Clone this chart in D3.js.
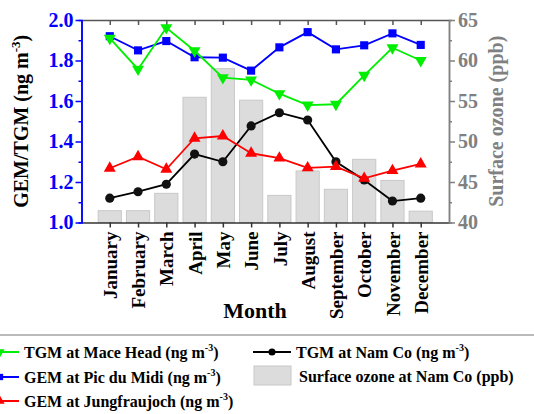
<!DOCTYPE html>
<html>
<head>
<meta charset="utf-8">
<script src="https://cdn.jsdelivr.net/npm/d3@7"></script>
<style>
	body { margin: 0; background: #fff; }
	svg { display: block; font-family: 'Liberation Serif', 'Times New Roman', serif; font-weight: bold; }
</style>
</head>
<body>
<svg></svg>
<script>
var WIDTH = 534;
var HEIGHT = 414;

var months = ['January', 'February', 'March', 'April', 'May', 'June', 'July',
	'August', 'September', 'October', 'November', 'December'];

var tgmMaceHead = [1.91, 1.757, 1.962, 1.848, 1.715, 1.704, 1.636, 1.58, 1.584, 1.727, 1.863, 1.80];
var gemPicDuMidi = [1.92, 1.85, 1.896, 1.816, 1.814, 1.75, 1.865, 1.94, 1.855, 1.875, 1.934, 1.877];
var gemJungfraujoch = [1.268, 1.325, 1.263, 1.416, 1.427, 1.342, 1.318, 1.27, 1.276, 1.218, 1.256, 1.289];
var tgmNamCo = [1.12, 1.152, 1.189, 1.338, 1.30, 1.477, 1.542, 1.506, 1.30, 1.21, 1.106, 1.12];
var ozoneNamCo = [41.46, 41.46, 43.6, 55.46, 59.0, 55.1, 43.35, 46.36, 44.1, 47.8, 45.2, 41.4];

var leftTicks = [1.0, 1.2, 1.4, 1.6, 1.8, 2.0];
var rightTicks = [40, 45, 50, 55, 60, 65];

var svg = d3.select('svg')
	.attr('width', WIDTH)
	.attr('height', HEIGHT);

var plotLeft = 81.5, plotRight = 449, plotTop = 20, plotBottom = 222.5;

var x = d3.scalePoint().domain(months).range([plotLeft, plotRight]).padding(1);
var yLeft = d3.scaleLinear().domain([1, 2]).range([plotBottom, plotTop]);
var yRight = d3.scaleLinear().domain([40, 65]).range([plotBottom, plotTop]);

// bars (surface ozone)
var barW = x.step() * 0.82;
svg.append('g').selectAll('rect')
	.data(ozoneNamCo)
	.enter()
	.append('rect')
	.attr('x', function(d, i){ return x(months[i]) - barW / 2; })
	.attr('y', function(d){ return yRight(d); })
	.attr('width', barW)
	.attr('height', function(d){ return plotBottom - yRight(d); })
	.attr('fill', '#dcdcdc')
	.attr('stroke', '#c8c8c8')
	.attr('stroke-width', 1);

// top frame line with inward ticks
var topAxis = d3.axisTop(x).tickSize(-5).tickSizeOuter(0).tickFormat('');
svg.append('g')
	.attr('transform', 'translate(0,' + plotTop + ')')
	.call(topAxis)
	.call(function(g){
		g.selectAll('path, line').attr('stroke', '#555').attr('stroke-width', 1.5);
	});

// bottom axis
var bottomAxis = d3.axisBottom(x).tickSize(5).tickSizeOuter(0);
svg.append('g')
	.attr('transform', 'translate(0,' + plotBottom + ')')
	.call(bottomAxis)
	.call(function(g){
		g.select('.domain').attr('stroke', '#333').attr('stroke-width', 1.5);
		g.selectAll('line').attr('stroke', '#333').attr('stroke-width', 1.5);
		g.selectAll('text')
			.attr('transform', 'rotate(-90)')
			.attr('x', -9)
			.attr('y', 0)
			.attr('dy', '0.35em')
			.attr('text-anchor', 'end')
			.attr('font-size', 19)
			.attr('font-family', 'Liberation Serif')
			.attr('font-weight', 'bold')
			.attr('fill', '#000');
	});

// left axis (blue)
var leftMinor = d3.axisLeft(yLeft).tickValues(d3.range(1.1, 2, 0.2)).tickSize(3).tickFormat('');
svg.append('g')
	.attr('transform', 'translate(' + plotLeft + ',0)')
	.call(leftMinor)
	.call(function(g){ g.selectAll('path, line').attr('stroke', '#0000ff').attr('stroke-width', 1.5); });
var leftAxis = d3.axisLeft(yLeft).tickValues(leftTicks).tickSize(6).tickSizeOuter(0).tickFormat(d3.format('.1f'));
svg.append('g')
	.attr('transform', 'translate(' + plotLeft + ',0)')
	.call(leftAxis)
	.call(function(g){
		g.selectAll('path, line').attr('stroke', '#0000ff').attr('stroke-width', 1.5);
		g.selectAll('text')
			.attr('fill', '#0000ff')
			.attr('font-size', 20)
			.attr('font-family', 'Liberation Serif')
			.attr('font-weight', 'bold')
			.attr('x', -8);
	});

// right axis (gray)
var rightMinor = d3.axisRight(yRight).tickValues(d3.range(42.5, 65, 5)).tickSize(3).tickFormat('');
svg.append('g')
	.attr('transform', 'translate(' + plotRight + ',0)')
	.call(rightMinor)
	.call(function(g){ g.selectAll('path, line').attr('stroke', '#808080').attr('stroke-width', 1.5); });
var rightAxis = d3.axisRight(yRight).tickValues(rightTicks).tickSize(6).tickSizeOuter(0);
svg.append('g')
	.attr('transform', 'translate(' + plotRight + ',0)')
	.call(rightAxis)
	.call(function(g){
		g.selectAll('path, line').attr('stroke', '#808080').attr('stroke-width', 1.5);
		g.selectAll('text')
			.attr('fill', '#808080')
			.attr('font-size', 20)
			.attr('font-family', 'Liberation Serif')
			.attr('font-weight', 'bold')
			.attr('x', 9);
	});

// axis titles
var leftTitle = svg.append('text')
	.attr('transform', 'translate(28,' + ((plotTop + plotBottom) / 2) + ') rotate(-90)')
	.attr('text-anchor', 'middle')
	.attr('font-size', 20)
	.attr('fill', '#000');
leftTitle.append('tspan').text('GEM/TGM (ng m');
leftTitle.append('tspan').attr('font-size', 13).attr('dy', -8).text('-3');
leftTitle.append('tspan').attr('dy', 8).text(')');

svg.append('text')
	.attr('transform', 'translate(503,' + ((plotTop + plotBottom) / 2) + ') rotate(-90)')
	.attr('text-anchor', 'middle')
	.attr('font-size', 20)
	.attr('fill', '#808080')
	.text('Surface ozone (ppb)');

svg.append('text')
	.attr('x', 255)
	.attr('y', 318)
	.attr('text-anchor', 'middle')
	.attr('font-size', 22)
	.attr('fill', '#000')
	.text('Month');

// series lines + markers
var lineGen = d3.line()
	.x(function(d, i){ return x(months[i]); })
	.y(function(d){ return yLeft(d); });

var series = [
	{ name: 'TGM at Nam Co', values: tgmNamCo, color: '#000000', symbol: d3.symbolCircle, size: 66, rot: 0 },
	{ name: 'GEM at Jungfraujoch', values: gemJungfraujoch, color: '#ff0000', symbol: d3.symbolTriangle, size: 62, rot: 0 },
	{ name: 'GEM at Pic du Midi', values: gemPicDuMidi, color: '#0000ff', symbol: d3.symbolSquare, size: 66, rot: 0 },
	{ name: 'TGM at Mace Head', values: tgmMaceHead, color: '#00ee00', symbol: d3.symbolTriangle, size: 62, rot: 180 }
];

series.forEach(function(s){
	var g = svg.append('g');
	g.append('path')
		.datum(s.values)
		.attr('d', lineGen)
		.attr('fill', 'none')
		.attr('stroke', s.color)
		.attr('stroke-width', 1.8);
	g.selectAll('path.pt')
		.data(s.values)
		.enter()
		.append('path')
		.attr('class', 'pt')
		.attr('d', d3.symbol().type(s.symbol).size(s.size))
		.attr('transform', function(d, i){
			return 'translate(' + x(months[i]) + ',' + yLeft(d) + ') rotate(' + s.rot + ')';
		})
		.attr('fill', s.color === '#000000' ? '#111' : s.color);
});

// legend
svg.append('line')
	.attr('x1', 0).attr('x2', WIDTH)
	.attr('y1', 335).attr('y2', 335)
	.attr('stroke', '#777')
	.attr('stroke-width', 1);

var legendItems = [
	{ s: series[3], x: 0, y: 352, label: 'TGM at Mace Head (ng m' },
	{ s: series[2], x: 0, y: 377, label: 'GEM at Pic du Midi (ng m' },
	{ s: series[1], x: 0, y: 401, label: 'GEM at Jungfraujoch (ng m' },
	{ s: series[0], x: 272, y: 352, label: 'TGM at Nam Co (ng m' }
];

legendItems.forEach(function(it){
	var g = svg.append('g').attr('transform', 'translate(' + it.x + ',' + it.y + ')');
	g.append('line')
		.attr('x1', -19).attr('x2', 19)
		.attr('stroke', it.s.color)
		.attr('stroke-width', 1.8);
	g.append('path')
		.attr('d', d3.symbol().type(it.s.symbol).size(it.s.size * 0.6))
		.attr('transform', 'rotate(' + it.s.rot + ')')
		.attr('fill', it.s.color);
	var t = g.append('text')
		.attr('x', 24)
		.attr('dy', '0.35em')
		.attr('font-size', 16)
		.attr('fill', '#000');
	t.append('tspan').text(it.label);
	t.append('tspan').attr('font-size', 10).attr('dy', -7).text('-3');
	t.append('tspan').attr('dy', 7).text(')');
});

svg.append('rect')
	.attr('x', 254).attr('y', 366)
	.attr('width', 37).attr('height', 19)
	.attr('fill', '#dcdcdc')
	.attr('stroke', '#c8c8c8');
svg.append('text')
	.attr('x', 299).attr('y', 376)
	.attr('dy', '0.35em')
	.attr('font-size', 16)
	.attr('fill', '#000')
	.text('Surface ozone at Nam Co (ppb)');
</script>
</body>
</html>
